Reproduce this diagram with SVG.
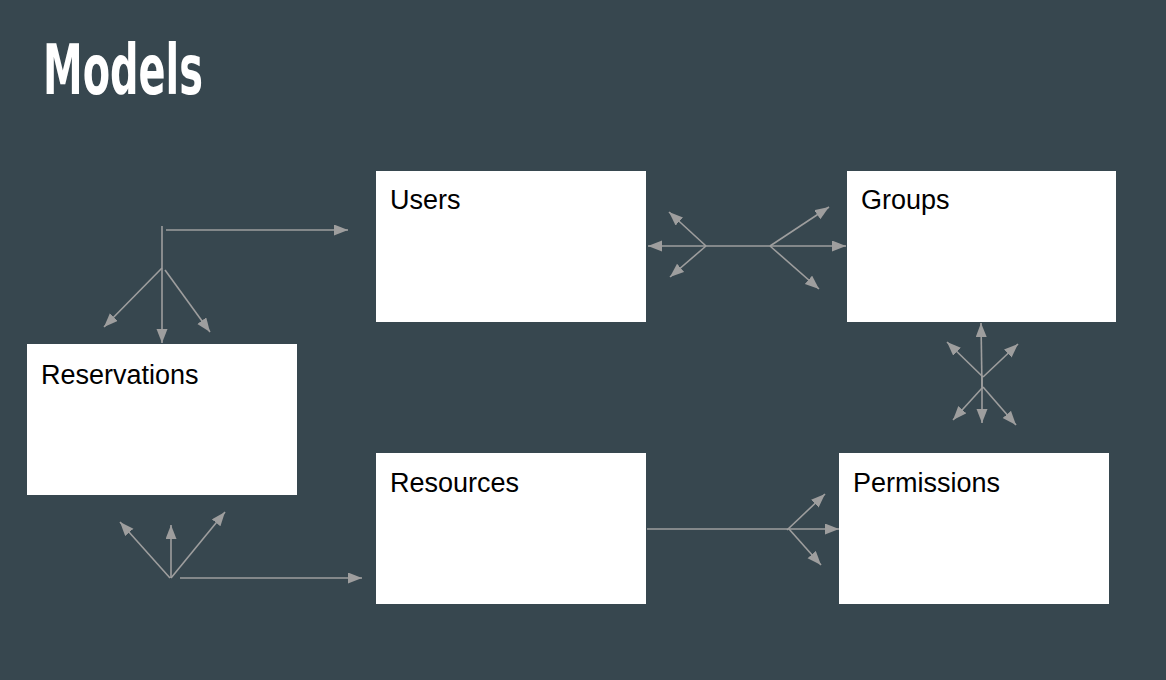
<svg xmlns="http://www.w3.org/2000/svg" width="1166" height="680" viewBox="0 0 1166 680">
<style>
.box{fill:#ffffff;stroke:none}
.lbl{font-family:"Liberation Sans",Arial,sans-serif;font-size:27px;fill:#000000}
.title{font-family:"Liberation Sans Narrow","DejaVu Sans Condensed","Liberation Sans",sans-serif;font-weight:bold;font-size:70px;fill:#ffffff}
.c{stroke:#9e9e9e;stroke-width:1.6;fill:none;marker-end:url(#ah)}
.p{stroke:#9e9e9e;stroke-width:1.6;fill:none}
</style>
<defs>
<marker id="ah" markerUnits="userSpaceOnUse" markerWidth="16" markerHeight="12" refX="14" refY="5.5" orient="auto">
<path d="M0,0 L14,5.5 L0,11 z" fill="#9e9e9e"/>
</marker>
</defs>
<rect width="1166" height="680" fill="#37474f"/>
<text class="title" x="43" y="94" textLength="160" lengthAdjust="spacingAndGlyphs">Models</text>

<g id="users"><rect class="box" x="376" y="171" width="270" height="151"/><text class="lbl" x="390" y="209">Users</text></g>
<g id="groups"><rect class="box" x="847" y="171" width="269" height="151"/><text class="lbl" x="861" y="209">Groups</text></g>
<g id="reservations"><rect class="box" x="27" y="344" width="270" height="151"/><text class="lbl" x="41" y="384">Reservations</text></g>
<g id="resources"><rect class="box" x="376" y="453" width="270" height="151"/><text class="lbl" x="390" y="492">Resources</text></g>
<g id="permissions"><rect class="box" x="839" y="453" width="270" height="151"/><text class="lbl" x="853" y="492">Permissions</text></g>

<g id="connectors">
<!-- Reservations - Users -->
<line class="p" x1="162" y1="226" x2="162" y2="268"/>
<line class="c" x1="166" y1="230" x2="348" y2="230"/>
<line class="c" x1="162" y1="268" x2="162" y2="343"/>
<line class="c" x1="162" y1="268" x2="104" y2="327"/>
<line class="c" x1="165" y1="270" x2="210" y2="332"/>

<!-- Users - Groups -->
<line class="p" x1="706" y1="246" x2="770" y2="246"/>
<line class="c" x1="706" y1="246" x2="648" y2="246"/>
<line class="c" x1="706" y1="246" x2="669" y2="212"/>
<line class="c" x1="706" y1="246" x2="670" y2="277"/>
<line class="c" x1="770" y1="246" x2="846" y2="246"/>
<line class="c" x1="770" y1="246" x2="829" y2="207"/>
<line class="c" x1="770" y1="246" x2="819" y2="289"/>

<!-- Groups - Permissions -->
<line class="c" x1="982" y1="387" x2="981" y2="323"/>
<line class="c" x1="983" y1="377" x2="947" y2="342"/>
<line class="c" x1="983" y1="377" x2="1018" y2="344"/>
<line class="c" x1="982" y1="377" x2="982" y2="423"/>
<line class="c" x1="983" y1="387" x2="953" y2="420"/>
<line class="c" x1="983" y1="387" x2="1016" y2="425"/>

<!-- Reservations - Resources -->
<line class="c" x1="170" y1="578" x2="120" y2="522"/>
<line class="c" x1="171" y1="578" x2="171" y2="525"/>
<line class="c" x1="171" y1="578" x2="225" y2="512"/>
<line class="c" x1="180" y1="578" x2="362" y2="578"/>

<!-- Resources - Permissions -->
<line class="c" x1="647" y1="529" x2="839" y2="529"/>
<line class="c" x1="787" y1="530" x2="825" y2="494"/>
<line class="c" x1="789" y1="529" x2="821" y2="565"/>
</g>
</svg>
